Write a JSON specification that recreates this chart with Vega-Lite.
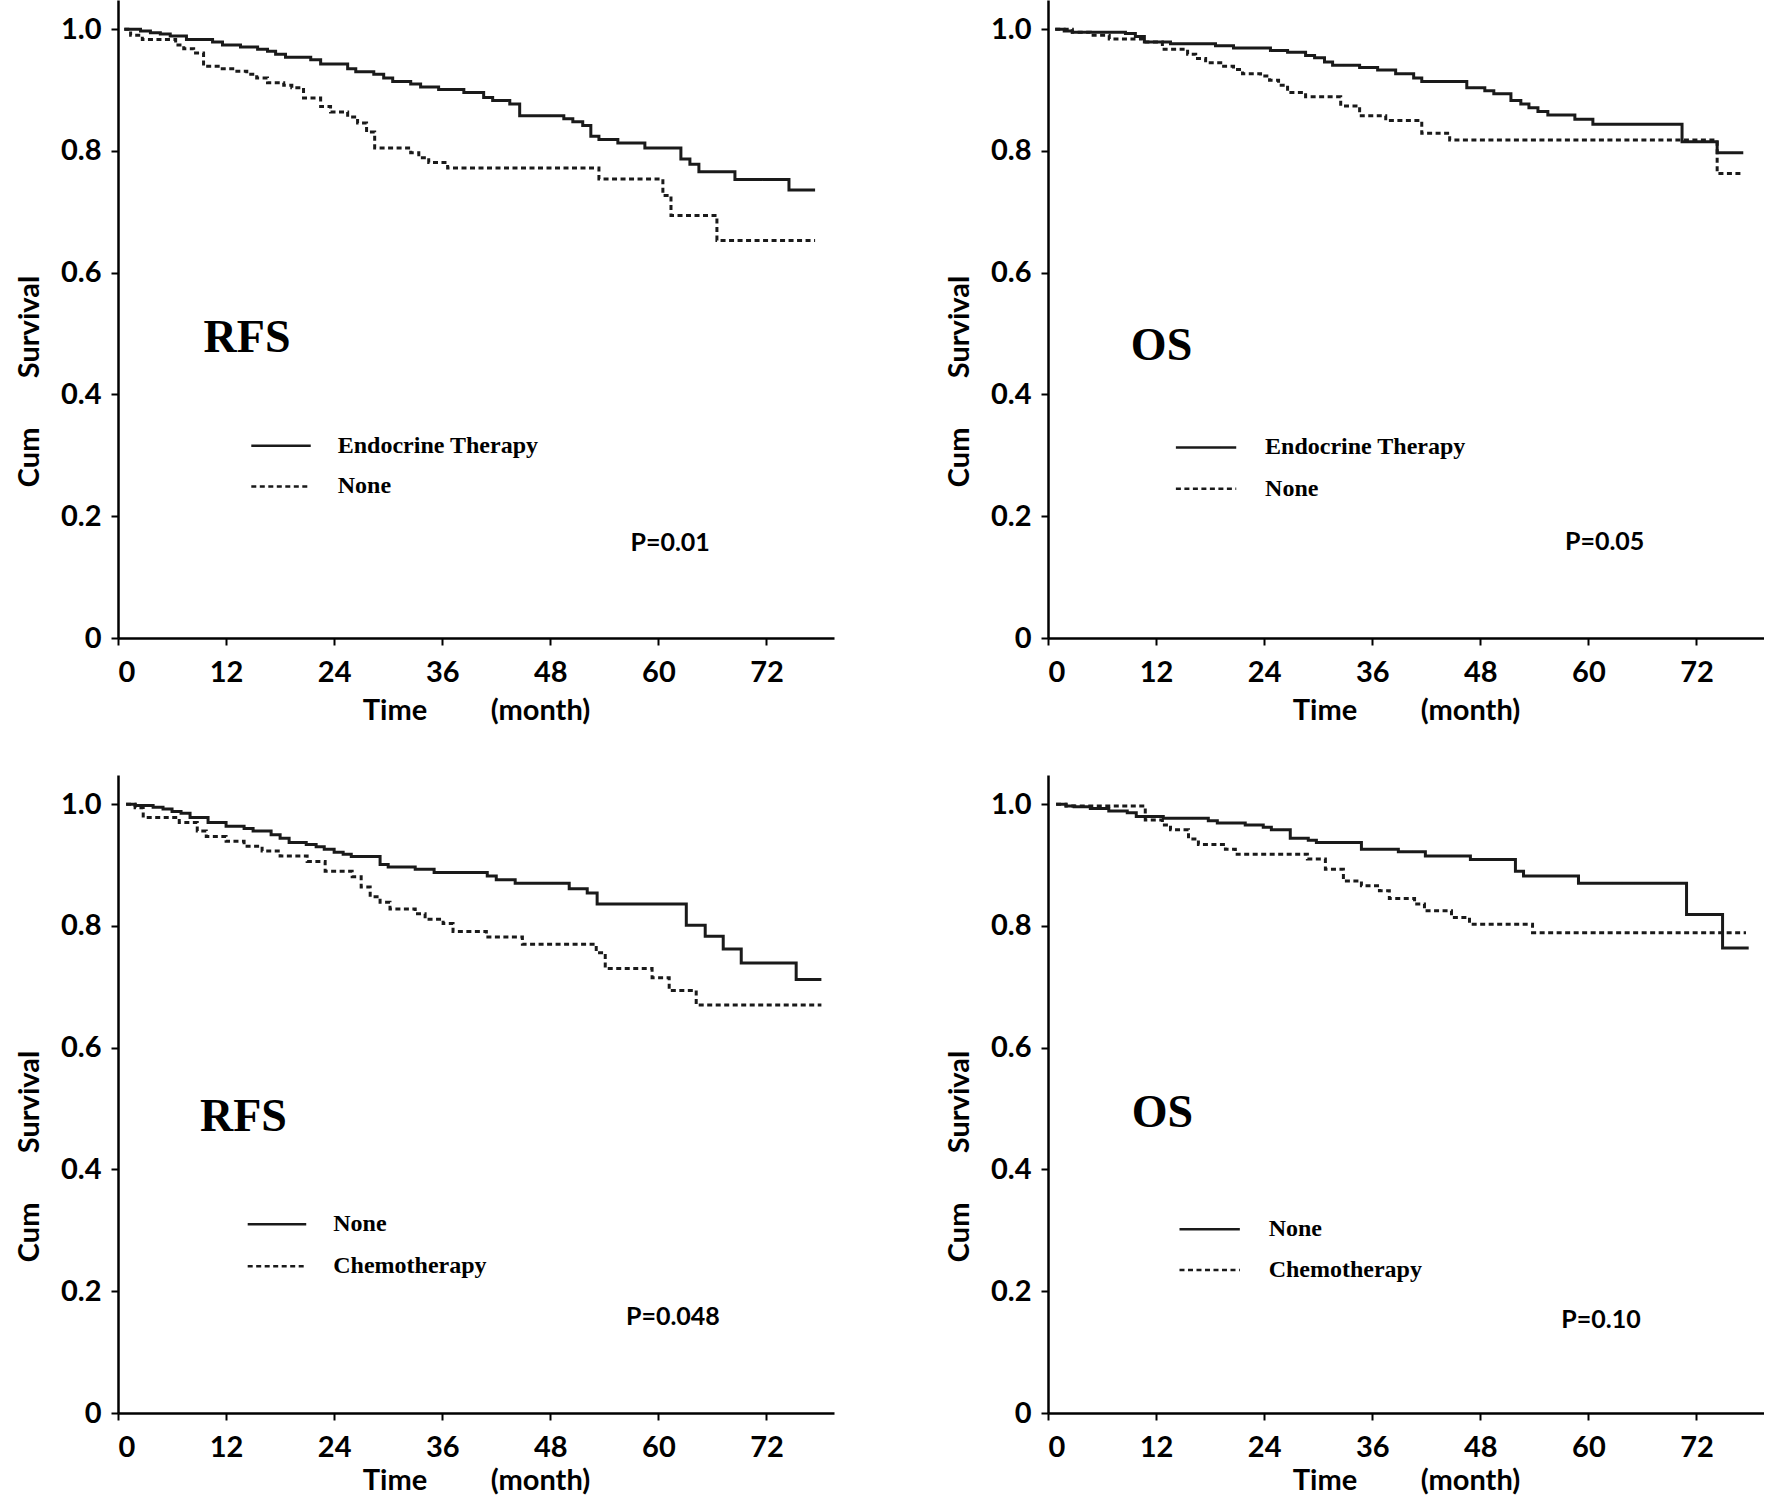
{
  "$schema": "https://vega.github.io/schema/vega-lite/v6.json",
  "background": "white",
  "padding": {"left": 15, "top": 0, "right": 0, "bottom": 0},
  "bounds": "flush",
  "columns": 2,
  "spacing": {"row": 137, "column": 214},
  "datasets": {
    "curves": [
      {"p":"TL","g":"Endocrine Therapy","d":"solid","t":0.7,"s":1.0},{"p":"TL","g":"Endocrine Therapy","d":"solid","t":2.5,"s":0.997},{"p":"TL","g":"Endocrine Therapy","d":"solid","t":3.6,"s":0.994},{"p":"TL","g":"Endocrine Therapy","d":"solid","t":4.7,"s":0.992},{"p":"TL","g":"Endocrine Therapy","d":"solid","t":5.8,"s":0.989},{"p":"TL","g":"Endocrine Therapy","d":"solid","t":7.6,"s":0.983},{"p":"TL","g":"Endocrine Therapy","d":"solid","t":10.5,"s":0.979},{"p":"TL","g":"Endocrine Therapy","d":"solid","t":11.6,"s":0.974},{"p":"TL","g":"Endocrine Therapy","d":"solid","t":13.6,"s":0.971},{"p":"TL","g":"Endocrine Therapy","d":"solid","t":15.5,"s":0.967},{"p":"TL","g":"Endocrine Therapy","d":"solid","t":16.6,"s":0.964},{"p":"TL","g":"Endocrine Therapy","d":"solid","t":17.5,"s":0.959},{"p":"TL","g":"Endocrine Therapy","d":"solid","t":18.6,"s":0.954},{"p":"TL","g":"Endocrine Therapy","d":"solid","t":21.4,"s":0.95},{"p":"TL","g":"Endocrine Therapy","d":"solid","t":22.5,"s":0.943},{"p":"TL","g":"Endocrine Therapy","d":"solid","t":25.5,"s":0.935},{"p":"TL","g":"Endocrine Therapy","d":"solid","t":26.4,"s":0.93},{"p":"TL","g":"Endocrine Therapy","d":"solid","t":28.4,"s":0.926},{"p":"TL","g":"Endocrine Therapy","d":"solid","t":29.5,"s":0.92},{"p":"TL","g":"Endocrine Therapy","d":"solid","t":30.5,"s":0.914},{"p":"TL","g":"Endocrine Therapy","d":"solid","t":32.5,"s":0.91},{"p":"TL","g":"Endocrine Therapy","d":"solid","t":33.6,"s":0.905},{"p":"TL","g":"Endocrine Therapy","d":"solid","t":35.6,"s":0.901},{"p":"TL","g":"Endocrine Therapy","d":"solid","t":38.4,"s":0.896},{"p":"TL","g":"Endocrine Therapy","d":"solid","t":40.6,"s":0.888},{"p":"TL","g":"Endocrine Therapy","d":"solid","t":41.6,"s":0.883},{"p":"TL","g":"Endocrine Therapy","d":"solid","t":43.5,"s":0.877},{"p":"TL","g":"Endocrine Therapy","d":"solid","t":44.6,"s":0.858},{"p":"TL","g":"Endocrine Therapy","d":"solid","t":49.5,"s":0.853},{"p":"TL","g":"Endocrine Therapy","d":"solid","t":50.5,"s":0.848},{"p":"TL","g":"Endocrine Therapy","d":"solid","t":51.6,"s":0.842},{"p":"TL","g":"Endocrine Therapy","d":"solid","t":52.5,"s":0.824},{"p":"TL","g":"Endocrine Therapy","d":"solid","t":53.4,"s":0.819},{"p":"TL","g":"Endocrine Therapy","d":"solid","t":55.5,"s":0.813},{"p":"TL","g":"Endocrine Therapy","d":"solid","t":58.5,"s":0.805},{"p":"TL","g":"Endocrine Therapy","d":"solid","t":62.5,"s":0.787},{"p":"TL","g":"Endocrine Therapy","d":"solid","t":63.5,"s":0.778},{"p":"TL","g":"Endocrine Therapy","d":"solid","t":64.5,"s":0.766},{"p":"TL","g":"Endocrine Therapy","d":"solid","t":68.5,"s":0.753},{"p":"TL","g":"Endocrine Therapy","d":"solid","t":74.5,"s":0.736},{"p":"TL","g":"Endocrine Therapy","d":"solid","t":77.4,"s":0.736},
      {"p":"TL","g":"None","d":"dashed","t":0.7,"s":1.0},{"p":"TL","g":"None","d":"dashed","t":1.4,"s":0.99},{"p":"TL","g":"None","d":"dashed","t":2.7,"s":0.983},{"p":"TL","g":"None","d":"dashed","t":6.4,"s":0.974},{"p":"TL","g":"None","d":"dashed","t":7.3,"s":0.968},{"p":"TL","g":"None","d":"dashed","t":8.4,"s":0.961},{"p":"TL","g":"None","d":"dashed","t":9.5,"s":0.939},{"p":"TL","g":"None","d":"dashed","t":11.4,"s":0.935},{"p":"TL","g":"None","d":"dashed","t":13.2,"s":0.931},{"p":"TL","g":"None","d":"dashed","t":14.3,"s":0.926},{"p":"TL","g":"None","d":"dashed","t":15.4,"s":0.92},{"p":"TL","g":"None","d":"dashed","t":16.6,"s":0.912},{"p":"TL","g":"None","d":"dashed","t":18.4,"s":0.908},{"p":"TL","g":"None","d":"dashed","t":19.3,"s":0.904},{"p":"TL","g":"None","d":"dashed","t":20.6,"s":0.887},{"p":"TL","g":"None","d":"dashed","t":22.5,"s":0.873},{"p":"TL","g":"None","d":"dashed","t":23.6,"s":0.864},{"p":"TL","g":"None","d":"dashed","t":25.5,"s":0.856},{"p":"TL","g":"None","d":"dashed","t":26.6,"s":0.846},{"p":"TL","g":"None","d":"dashed","t":27.6,"s":0.831},{"p":"TL","g":"None","d":"dashed","t":28.5,"s":0.805},{"p":"TL","g":"None","d":"dashed","t":32.5,"s":0.797},{"p":"TL","g":"None","d":"dashed","t":33.4,"s":0.789},{"p":"TL","g":"None","d":"dashed","t":34.5,"s":0.781},{"p":"TL","g":"None","d":"dashed","t":36.6,"s":0.772},{"p":"TL","g":"None","d":"dashed","t":53.4,"s":0.754},{"p":"TL","g":"None","d":"dashed","t":60.5,"s":0.727},{"p":"TL","g":"None","d":"dashed","t":61.4,"s":0.694},{"p":"TL","g":"None","d":"dashed","t":66.5,"s":0.653},{"p":"TL","g":"None","d":"dashed","t":77.4,"s":0.653},
      {"p":"TR","g":"Endocrine Therapy","d":"solid","t":0.8,"s":1.0},{"p":"TR","g":"Endocrine Therapy","d":"solid","t":1.8,"s":0.997},{"p":"TR","g":"Endocrine Therapy","d":"solid","t":2.7,"s":0.995},{"p":"TR","g":"Endocrine Therapy","d":"solid","t":8.6,"s":0.993},{"p":"TR","g":"Endocrine Therapy","d":"solid","t":9.7,"s":0.988},{"p":"TR","g":"Endocrine Therapy","d":"solid","t":10.7,"s":0.979},{"p":"TR","g":"Endocrine Therapy","d":"solid","t":13.6,"s":0.976},{"p":"TR","g":"Endocrine Therapy","d":"solid","t":18.6,"s":0.973},{"p":"TR","g":"Endocrine Therapy","d":"solid","t":20.6,"s":0.969},{"p":"TR","g":"Endocrine Therapy","d":"solid","t":24.7,"s":0.965},{"p":"TR","g":"Endocrine Therapy","d":"solid","t":26.6,"s":0.962},{"p":"TR","g":"Endocrine Therapy","d":"solid","t":28.6,"s":0.957},{"p":"TR","g":"Endocrine Therapy","d":"solid","t":29.6,"s":0.953},{"p":"TR","g":"Endocrine Therapy","d":"solid","t":30.7,"s":0.946},{"p":"TR","g":"Endocrine Therapy","d":"solid","t":31.6,"s":0.941},{"p":"TR","g":"Endocrine Therapy","d":"solid","t":34.6,"s":0.937},{"p":"TR","g":"Endocrine Therapy","d":"solid","t":36.6,"s":0.933},{"p":"TR","g":"Endocrine Therapy","d":"solid","t":38.6,"s":0.927},{"p":"TR","g":"Endocrine Therapy","d":"solid","t":40.6,"s":0.92},{"p":"TR","g":"Endocrine Therapy","d":"solid","t":41.5,"s":0.914},{"p":"TR","g":"Endocrine Therapy","d":"solid","t":46.5,"s":0.904},{"p":"TR","g":"Endocrine Therapy","d":"solid","t":48.5,"s":0.899},{"p":"TR","g":"Endocrine Therapy","d":"solid","t":49.5,"s":0.894},{"p":"TR","g":"Endocrine Therapy","d":"solid","t":51.4,"s":0.883},{"p":"TR","g":"Endocrine Therapy","d":"solid","t":52.5,"s":0.877},{"p":"TR","g":"Endocrine Therapy","d":"solid","t":53.4,"s":0.871},{"p":"TR","g":"Endocrine Therapy","d":"solid","t":54.4,"s":0.865},{"p":"TR","g":"Endocrine Therapy","d":"solid","t":55.5,"s":0.859},{"p":"TR","g":"Endocrine Therapy","d":"solid","t":58.5,"s":0.852},{"p":"TR","g":"Endocrine Therapy","d":"solid","t":60.5,"s":0.844},{"p":"TR","g":"Endocrine Therapy","d":"solid","t":70.4,"s":0.815},{"p":"TR","g":"Endocrine Therapy","d":"solid","t":74.3,"s":0.797},{"p":"TR","g":"Endocrine Therapy","d":"solid","t":77.2,"s":0.797},
      {"p":"TR","g":"None","d":"dashed","t":0.8,"s":1.0},{"p":"TR","g":"None","d":"dashed","t":2.7,"s":0.995},{"p":"TR","g":"None","d":"dashed","t":4.7,"s":0.99},{"p":"TR","g":"None","d":"dashed","t":6.8,"s":0.984},{"p":"TR","g":"None","d":"dashed","t":10.5,"s":0.979},{"p":"TR","g":"None","d":"dashed","t":12.7,"s":0.967},{"p":"TR","g":"None","d":"dashed","t":15.5,"s":0.959},{"p":"TR","g":"None","d":"dashed","t":16.4,"s":0.952},{"p":"TR","g":"None","d":"dashed","t":17.5,"s":0.945},{"p":"TR","g":"None","d":"dashed","t":19.5,"s":0.939},{"p":"TR","g":"None","d":"dashed","t":20.6,"s":0.934},{"p":"TR","g":"None","d":"dashed","t":21.6,"s":0.927},{"p":"TR","g":"None","d":"dashed","t":23.6,"s":0.923},{"p":"TR","g":"None","d":"dashed","t":24.6,"s":0.916},{"p":"TR","g":"None","d":"dashed","t":25.6,"s":0.908},{"p":"TR","g":"None","d":"dashed","t":26.6,"s":0.896},{"p":"TR","g":"None","d":"dashed","t":28.6,"s":0.889},{"p":"TR","g":"None","d":"dashed","t":32.5,"s":0.874},{"p":"TR","g":"None","d":"dashed","t":34.6,"s":0.858},{"p":"TR","g":"None","d":"dashed","t":37.5,"s":0.85},{"p":"TR","g":"None","d":"dashed","t":41.5,"s":0.829},{"p":"TR","g":"None","d":"dashed","t":44.6,"s":0.818},{"p":"TR","g":"None","d":"dashed","t":74.3,"s":0.763},{"p":"TR","g":"None","d":"dashed","t":77.2,"s":0.763},
      {"p":"BL","g":"None","d":"solid","t":0.9,"s":1.0},{"p":"BL","g":"None","d":"solid","t":1.9,"s":0.998},{"p":"BL","g":"None","d":"solid","t":3.9,"s":0.995},{"p":"BL","g":"None","d":"solid","t":5.0,"s":0.992},{"p":"BL","g":"None","d":"solid","t":6.0,"s":0.988},{"p":"BL","g":"None","d":"solid","t":7.0,"s":0.985},{"p":"BL","g":"None","d":"solid","t":8.0,"s":0.978},{"p":"BL","g":"None","d":"solid","t":10.0,"s":0.97},{"p":"BL","g":"None","d":"solid","t":12.0,"s":0.964},{"p":"BL","g":"None","d":"solid","t":14.0,"s":0.96},{"p":"BL","g":"None","d":"solid","t":15.0,"s":0.956},{"p":"BL","g":"None","d":"solid","t":17.0,"s":0.95},{"p":"BL","g":"None","d":"solid","t":18.0,"s":0.944},{"p":"BL","g":"None","d":"solid","t":19.0,"s":0.937},{"p":"BL","g":"None","d":"solid","t":20.9,"s":0.934},{"p":"BL","g":"None","d":"solid","t":22.0,"s":0.93},{"p":"BL","g":"None","d":"solid","t":22.9,"s":0.926},{"p":"BL","g":"None","d":"solid","t":24.0,"s":0.921},{"p":"BL","g":"None","d":"solid","t":25.0,"s":0.918},{"p":"BL","g":"None","d":"solid","t":25.9,"s":0.914},{"p":"BL","g":"None","d":"solid","t":29.1,"s":0.901},{"p":"BL","g":"None","d":"solid","t":30.0,"s":0.897},{"p":"BL","g":"None","d":"solid","t":33.0,"s":0.893},{"p":"BL","g":"None","d":"solid","t":35.1,"s":0.888},{"p":"BL","g":"None","d":"solid","t":41.0,"s":0.882},{"p":"BL","g":"None","d":"solid","t":42.0,"s":0.876},{"p":"BL","g":"None","d":"solid","t":44.1,"s":0.87},{"p":"BL","g":"None","d":"solid","t":50.1,"s":0.861},{"p":"BL","g":"None","d":"solid","t":52.1,"s":0.854},{"p":"BL","g":"None","d":"solid","t":53.2,"s":0.836},{"p":"BL","g":"None","d":"solid","t":63.1,"s":0.801},{"p":"BL","g":"None","d":"solid","t":65.2,"s":0.783},{"p":"BL","g":"None","d":"solid","t":67.2,"s":0.762},{"p":"BL","g":"None","d":"solid","t":69.2,"s":0.739},{"p":"BL","g":"None","d":"solid","t":75.3,"s":0.712},{"p":"BL","g":"None","d":"solid","t":78.1,"s":0.712},
      {"p":"BL","g":"Chemotherapy","d":"dashed","t":0.9,"s":1.0},{"p":"BL","g":"Chemotherapy","d":"dashed","t":1.9,"s":0.994},{"p":"BL","g":"Chemotherapy","d":"dashed","t":2.8,"s":0.978},{"p":"BL","g":"Chemotherapy","d":"dashed","t":6.8,"s":0.97},{"p":"BL","g":"Chemotherapy","d":"dashed","t":8.8,"s":0.956},{"p":"BL","g":"Chemotherapy","d":"dashed","t":9.8,"s":0.947},{"p":"BL","g":"Chemotherapy","d":"dashed","t":12.0,"s":0.939},{"p":"BL","g":"Chemotherapy","d":"dashed","t":14.0,"s":0.931},{"p":"BL","g":"Chemotherapy","d":"dashed","t":16.0,"s":0.923},{"p":"BL","g":"Chemotherapy","d":"dashed","t":18.0,"s":0.915},{"p":"BL","g":"Chemotherapy","d":"dashed","t":21.0,"s":0.906},{"p":"BL","g":"Chemotherapy","d":"dashed","t":23.0,"s":0.89},{"p":"BL","g":"Chemotherapy","d":"dashed","t":26.0,"s":0.881},{"p":"BL","g":"Chemotherapy","d":"dashed","t":27.0,"s":0.864},{"p":"BL","g":"Chemotherapy","d":"dashed","t":28.0,"s":0.848},{"p":"BL","g":"Chemotherapy","d":"dashed","t":29.1,"s":0.839},{"p":"BL","g":"Chemotherapy","d":"dashed","t":30.2,"s":0.828},{"p":"BL","g":"Chemotherapy","d":"dashed","t":33.0,"s":0.82},{"p":"BL","g":"Chemotherapy","d":"dashed","t":34.1,"s":0.811},{"p":"BL","g":"Chemotherapy","d":"dashed","t":36.1,"s":0.804},{"p":"BL","g":"Chemotherapy","d":"dashed","t":37.2,"s":0.791},{"p":"BL","g":"Chemotherapy","d":"dashed","t":40.9,"s":0.782},{"p":"BL","g":"Chemotherapy","d":"dashed","t":44.9,"s":0.77},{"p":"BL","g":"Chemotherapy","d":"dashed","t":53.1,"s":0.756},{"p":"BL","g":"Chemotherapy","d":"dashed","t":54.1,"s":0.73},{"p":"BL","g":"Chemotherapy","d":"dashed","t":59.3,"s":0.715},{"p":"BL","g":"Chemotherapy","d":"dashed","t":61.2,"s":0.694},{"p":"BL","g":"Chemotherapy","d":"dashed","t":64.2,"s":0.67},{"p":"BL","g":"Chemotherapy","d":"dashed","t":78.1,"s":0.67},
      {"p":"BR","g":"None","d":"solid","t":0.9,"s":1.0},{"p":"BR","g":"None","d":"solid","t":2.0,"s":0.997},{"p":"BR","g":"None","d":"solid","t":2.9,"s":0.996},{"p":"BR","g":"None","d":"solid","t":4.7,"s":0.993},{"p":"BR","g":"None","d":"solid","t":6.75,"s":0.989},{"p":"BR","g":"None","d":"solid","t":8.8,"s":0.986},{"p":"BR","g":"None","d":"solid","t":9.8,"s":0.98},{"p":"BR","g":"None","d":"solid","t":12.8,"s":0.977},{"p":"BR","g":"None","d":"solid","t":17.8,"s":0.973},{"p":"BR","g":"None","d":"solid","t":18.8,"s":0.969},{"p":"BR","g":"None","d":"solid","t":21.9,"s":0.966},{"p":"BR","g":"None","d":"solid","t":23.9,"s":0.962},{"p":"BR","g":"None","d":"solid","t":24.8,"s":0.958},{"p":"BR","g":"None","d":"solid","t":26.9,"s":0.944},{"p":"BR","g":"None","d":"solid","t":28.9,"s":0.941},{"p":"BR","g":"None","d":"solid","t":29.8,"s":0.937},{"p":"BR","g":"None","d":"solid","t":34.8,"s":0.926},{"p":"BR","g":"None","d":"solid","t":38.9,"s":0.922},{"p":"BR","g":"None","d":"solid","t":41.9,"s":0.915},{"p":"BR","g":"None","d":"solid","t":46.9,"s":0.909},{"p":"BR","g":"None","d":"solid","t":51.9,"s":0.89},{"p":"BR","g":"None","d":"solid","t":52.8,"s":0.882},{"p":"BR","g":"None","d":"solid","t":58.9,"s":0.87},{"p":"BR","g":"None","d":"solid","t":70.9,"s":0.819},{"p":"BR","g":"None","d":"solid","t":74.9,"s":0.764},{"p":"BR","g":"None","d":"solid","t":77.8,"s":0.764},
      {"p":"BR","g":"Chemotherapy","d":"dashed","t":0.9,"s":1.0},{"p":"BR","g":"Chemotherapy","d":"dashed","t":2.0,"s":0.997},{"p":"BR","g":"Chemotherapy","d":"dashed","t":10.8,"s":0.974},{"p":"BR","g":"Chemotherapy","d":"dashed","t":12.7,"s":0.966},{"p":"BR","g":"Chemotherapy","d":"dashed","t":13.6,"s":0.958},{"p":"BR","g":"Chemotherapy","d":"dashed","t":15.6,"s":0.943},{"p":"BR","g":"Chemotherapy","d":"dashed","t":16.7,"s":0.934},{"p":"BR","g":"Chemotherapy","d":"dashed","t":19.7,"s":0.926},{"p":"BR","g":"Chemotherapy","d":"dashed","t":20.8,"s":0.918},{"p":"BR","g":"Chemotherapy","d":"dashed","t":28.8,"s":0.91},{"p":"BR","g":"Chemotherapy","d":"dashed","t":30.8,"s":0.893},{"p":"BR","g":"Chemotherapy","d":"dashed","t":32.8,"s":0.874},{"p":"BR","g":"Chemotherapy","d":"dashed","t":34.8,"s":0.866},{"p":"BR","g":"Chemotherapy","d":"dashed","t":36.8,"s":0.858},{"p":"BR","g":"Chemotherapy","d":"dashed","t":37.9,"s":0.845},{"p":"BR","g":"Chemotherapy","d":"dashed","t":40.7,"s":0.836},{"p":"BR","g":"Chemotherapy","d":"dashed","t":41.8,"s":0.825},{"p":"BR","g":"Chemotherapy","d":"dashed","t":44.8,"s":0.814},{"p":"BR","g":"Chemotherapy","d":"dashed","t":46.8,"s":0.803},{"p":"BR","g":"Chemotherapy","d":"dashed","t":53.8,"s":0.789},{"p":"BR","g":"Chemotherapy","d":"dashed","t":77.5,"s":0.789}
    ],
    "keys": [
      {"p":"TL","d":"solid","t":14.8,"t2":21.4,"s":0.316},{"p":"TL","d":"dashed","t":14.8,"t2":21.4,"s":0.249},
      {"p":"TR","d":"solid","t":14.2,"t2":20.9,"s":0.313},{"p":"TR","d":"dashed","t":14.2,"t2":20.9,"s":0.245},
      {"p":"BL","d":"solid","t":14.4,"t2":20.9,"s":0.31},{"p":"BL","d":"dashed","t":14.4,"t2":20.9,"s":0.241},
      {"p":"BR","d":"solid","t":14.6,"t2":21.3,"s":0.302},{"p":"BR","d":"dashed","t":14.6,"t2":21.3,"s":0.235}
    ],
    "labels": [
      {"p":"TL","k":"leg","t":24.4,"s":0.316,"label":"Endocrine Therapy"},{"p":"TL","k":"leg","t":24.4,"s":0.249,"label":"None"},{"p":"TL","k":"ttl","t":9.5,"s":0.493,"label":"RFS"},{"p":"TL","k":"pv","t":56.9,"s":0.156,"label":"P=0.01"},
      {"p":"TR","k":"leg","t":24.1,"s":0.313,"label":"Endocrine Therapy"},{"p":"TR","k":"leg","t":24.1,"s":0.245,"label":"None"},{"p":"TR","k":"ttl","t":9.2,"s":0.48,"label":"OS"},{"p":"TR","k":"pv","t":57.4,"s":0.158,"label":"P=0.05"},
      {"p":"BL","k":"leg","t":23.9,"s":0.31,"label":"None"},{"p":"BL","k":"leg","t":23.9,"s":0.241,"label":"Chemotherapy"},{"p":"BL","k":"ttl","t":9.1,"s":0.487,"label":"RFS"},{"p":"BL","k":"pv","t":56.4,"s":0.158,"label":"P=0.048"},
      {"p":"BR","k":"leg","t":24.5,"s":0.302,"label":"None"},{"p":"BR","k":"leg","t":24.5,"s":0.235,"label":"Chemotherapy"},{"p":"BR","k":"ttl","t":9.3,"s":0.492,"label":"OS"},{"p":"BR","k":"pv","t":57.0,"s":0.153,"label":"P=0.10"}
    ]
  },
  "concat": [
    {"width":716,"height":638,
     "encoding":{"x":{"field":"t","type":"quantitative","scale":{"domain":[0,79.5],"nice":false,"zero":true},"axis":{"values":[0,12,24,36,48,60,72],"title":"Time\u00a0\u00a0\u00a0\u00a0\u00a0\u00a0\u00a0\u00a0\u00a0(month)","titleY":81,"titleBaseline":"alphabetic","labelPadding":13}},
                 "y":{"field":"s","type":"quantitative","scale":{"domain":[0,1.048],"nice":false},"axis":{"values":[0,0.2,0.4,0.6,0.8,1.0],"labelExpr":"datum.value==0?'0':format(datum.value,'.1f')","title":"Cum\u00a0\u00a0\u00a0\u00a0\u00a0\u00a0\u00a0Survival","titleX":-80,"titleY":381,"titleAngle":270,"titleBaseline":"alphabetic","titleAlign":"center","labelPadding":10}}},
     "layer":[
      {"data":{"name":"curves"},"transform":[{"filter":"datum.p=='TL'"}],"mark":{"type":"line","interpolate":"step-after","strokeWidth":3,"color":"#1a1a1a"},"encoding":{"detail":{"field":"g"},"strokeDash":{"field":"d","type":"nominal","scale":{"domain":["solid","dashed"],"range":[[1,0],[5,3.5]]},"legend":null}}},
      {"data":{"name":"keys"},"transform":[{"filter":"datum.p=='TL'"}],"mark":{"type":"rule","strokeWidth":2.5,"color":"#1a1a1a"},"encoding":{"x2":{"field":"t2"},"strokeDash":{"field":"d","type":"nominal","scale":{"domain":["solid","dashed"],"range":[[1,0],[5,3.5]]},"legend":null}}},
      {"data":{"name":"labels"},"transform":[{"filter":"datum.p=='TL' && datum.k=='leg'"}],"mark":{"type":"text","align":"left","baseline":"middle","font":"Liberation Serif","fontWeight":"bold","fontSize":24,"color":"#000"},"encoding":{"text":{"field":"label"}}},
      {"data":{"name":"labels"},"transform":[{"filter":"datum.p=='TL' && datum.k=='ttl'"}],"mark":{"type":"text","align":"left","baseline":"middle","font":"Liberation Serif","fontWeight":"bold","fontSize":46,"color":"#000"},"encoding":{"text":{"field":"label"}}},
      {"data":{"name":"labels"},"transform":[{"filter":"datum.p=='TL' && datum.k=='pv'"}],"mark":{"type":"text","align":"left","baseline":"middle","font":"Lato","fontWeight":"bold","fontSize":25,"color":"#000"},"encoding":{"text":{"field":"label"}}}
     ]},
    {"width":716,"height":638,
     "encoding":{"x":{"field":"t","type":"quantitative","scale":{"domain":[0,79.5],"nice":false,"zero":true},"axis":{"values":[0,12,24,36,48,60,72],"title":"Time\u00a0\u00a0\u00a0\u00a0\u00a0\u00a0\u00a0\u00a0\u00a0(month)","titleY":81,"titleBaseline":"alphabetic","labelPadding":13}},
                 "y":{"field":"s","type":"quantitative","scale":{"domain":[0,1.048],"nice":false},"axis":{"values":[0,0.2,0.4,0.6,0.8,1.0],"labelExpr":"datum.value==0?'0':format(datum.value,'.1f')","title":"Cum\u00a0\u00a0\u00a0\u00a0\u00a0\u00a0\u00a0Survival","titleX":-80,"titleY":381,"titleAngle":270,"titleBaseline":"alphabetic","titleAlign":"center","labelPadding":10}}},
     "layer":[
      {"data":{"name":"curves"},"transform":[{"filter":"datum.p=='TR'"}],"mark":{"type":"line","interpolate":"step-after","strokeWidth":3,"color":"#1a1a1a"},"encoding":{"detail":{"field":"g"},"strokeDash":{"field":"d","type":"nominal","scale":{"domain":["solid","dashed"],"range":[[1,0],[5,3.5]]},"legend":null}}},
      {"data":{"name":"keys"},"transform":[{"filter":"datum.p=='TR'"}],"mark":{"type":"rule","strokeWidth":2.5,"color":"#1a1a1a"},"encoding":{"x2":{"field":"t2"},"strokeDash":{"field":"d","type":"nominal","scale":{"domain":["solid","dashed"],"range":[[1,0],[5,3.5]]},"legend":null}}},
      {"data":{"name":"labels"},"transform":[{"filter":"datum.p=='TR' && datum.k=='leg'"}],"mark":{"type":"text","align":"left","baseline":"middle","font":"Liberation Serif","fontWeight":"bold","fontSize":24,"color":"#000"},"encoding":{"text":{"field":"label"}}},
      {"data":{"name":"labels"},"transform":[{"filter":"datum.p=='TR' && datum.k=='ttl'"}],"mark":{"type":"text","align":"left","baseline":"middle","font":"Liberation Serif","fontWeight":"bold","fontSize":46,"color":"#000"},"encoding":{"text":{"field":"label"}}},
      {"data":{"name":"labels"},"transform":[{"filter":"datum.p=='TR' && datum.k=='pv'"}],"mark":{"type":"text","align":"left","baseline":"middle","font":"Lato","fontWeight":"bold","fontSize":25,"color":"#000"},"encoding":{"text":{"field":"label"}}}
     ]},
    {"width":716,"height":638,
     "encoding":{"x":{"field":"t","type":"quantitative","scale":{"domain":[0,79.5],"nice":false,"zero":true},"axis":{"values":[0,12,24,36,48,60,72],"title":"Time\u00a0\u00a0\u00a0\u00a0\u00a0\u00a0\u00a0\u00a0\u00a0(month)","titleY":76,"titleBaseline":"alphabetic","labelPadding":13}},
                 "y":{"field":"s","type":"quantitative","scale":{"domain":[0,1.048],"nice":false},"axis":{"values":[0,0.2,0.4,0.6,0.8,1.0],"labelExpr":"datum.value==0?'0':format(datum.value,'.1f')","title":"Cum\u00a0\u00a0\u00a0\u00a0\u00a0\u00a0\u00a0Survival","titleX":-80,"titleY":381,"titleAngle":270,"titleBaseline":"alphabetic","titleAlign":"center","labelPadding":10}}},
     "layer":[
      {"data":{"name":"curves"},"transform":[{"filter":"datum.p=='BL'"}],"mark":{"type":"line","interpolate":"step-after","strokeWidth":3,"color":"#1a1a1a"},"encoding":{"detail":{"field":"g"},"strokeDash":{"field":"d","type":"nominal","scale":{"domain":["solid","dashed"],"range":[[1,0],[5,3.5]]},"legend":null}}},
      {"data":{"name":"keys"},"transform":[{"filter":"datum.p=='BL'"}],"mark":{"type":"rule","strokeWidth":2.5,"color":"#1a1a1a"},"encoding":{"x2":{"field":"t2"},"strokeDash":{"field":"d","type":"nominal","scale":{"domain":["solid","dashed"],"range":[[1,0],[5,3.5]]},"legend":null}}},
      {"data":{"name":"labels"},"transform":[{"filter":"datum.p=='BL' && datum.k=='leg'"}],"mark":{"type":"text","align":"left","baseline":"middle","font":"Liberation Serif","fontWeight":"bold","fontSize":24,"color":"#000"},"encoding":{"text":{"field":"label"}}},
      {"data":{"name":"labels"},"transform":[{"filter":"datum.p=='BL' && datum.k=='ttl'"}],"mark":{"type":"text","align":"left","baseline":"middle","font":"Liberation Serif","fontWeight":"bold","fontSize":46,"color":"#000"},"encoding":{"text":{"field":"label"}}},
      {"data":{"name":"labels"},"transform":[{"filter":"datum.p=='BL' && datum.k=='pv'"}],"mark":{"type":"text","align":"left","baseline":"middle","font":"Lato","fontWeight":"bold","fontSize":25,"color":"#000"},"encoding":{"text":{"field":"label"}}}
     ]},
    {"width":716,"height":638,
     "encoding":{"x":{"field":"t","type":"quantitative","scale":{"domain":[0,79.5],"nice":false,"zero":true},"axis":{"values":[0,12,24,36,48,60,72],"title":"Time\u00a0\u00a0\u00a0\u00a0\u00a0\u00a0\u00a0\u00a0\u00a0(month)","titleY":76,"titleBaseline":"alphabetic","labelPadding":13}},
                 "y":{"field":"s","type":"quantitative","scale":{"domain":[0,1.048],"nice":false},"axis":{"values":[0,0.2,0.4,0.6,0.8,1.0],"labelExpr":"datum.value==0?'0':format(datum.value,'.1f')","title":"Cum\u00a0\u00a0\u00a0\u00a0\u00a0\u00a0\u00a0Survival","titleX":-80,"titleY":381,"titleAngle":270,"titleBaseline":"alphabetic","titleAlign":"center","labelPadding":10}}},
     "layer":[
      {"data":{"name":"curves"},"transform":[{"filter":"datum.p=='BR'"}],"mark":{"type":"line","interpolate":"step-after","strokeWidth":3,"color":"#1a1a1a"},"encoding":{"detail":{"field":"g"},"strokeDash":{"field":"d","type":"nominal","scale":{"domain":["solid","dashed"],"range":[[1,0],[5,3.5]]},"legend":null}}},
      {"data":{"name":"keys"},"transform":[{"filter":"datum.p=='BR'"}],"mark":{"type":"rule","strokeWidth":2.5,"color":"#1a1a1a"},"encoding":{"x2":{"field":"t2"},"strokeDash":{"field":"d","type":"nominal","scale":{"domain":["solid","dashed"],"range":[[1,0],[5,3.5]]},"legend":null}}},
      {"data":{"name":"labels"},"transform":[{"filter":"datum.p=='BR' && datum.k=='leg'"}],"mark":{"type":"text","align":"left","baseline":"middle","font":"Liberation Serif","fontWeight":"bold","fontSize":24,"color":"#000"},"encoding":{"text":{"field":"label"}}},
      {"data":{"name":"labels"},"transform":[{"filter":"datum.p=='BR' && datum.k=='ttl'"}],"mark":{"type":"text","align":"left","baseline":"middle","font":"Liberation Serif","fontWeight":"bold","fontSize":46,"color":"#000"},"encoding":{"text":{"field":"label"}}},
      {"data":{"name":"labels"},"transform":[{"filter":"datum.p=='BR' && datum.k=='pv'"}],"mark":{"type":"text","align":"left","baseline":"middle","font":"Lato","fontWeight":"bold","fontSize":25,"color":"#000"},"encoding":{"text":{"field":"label"}}}
     ]}
  ],
  "config": {
    "view": {"stroke": null},
    "axis": {"grid": false, "domainColor": "#000", "domainWidth": 2.5, "tickColor": "#000", "tickWidth": 2, "tickSize": 7,
             "labelFont": "Lato", "labelFontWeight": "bold", "labelFontSize": 29, "labelColor": "#000",
             "titleFont": "Lato", "titleFontWeight": "bold", "titleFontSize": 29, "titleColor": "#000"}
  }
}
